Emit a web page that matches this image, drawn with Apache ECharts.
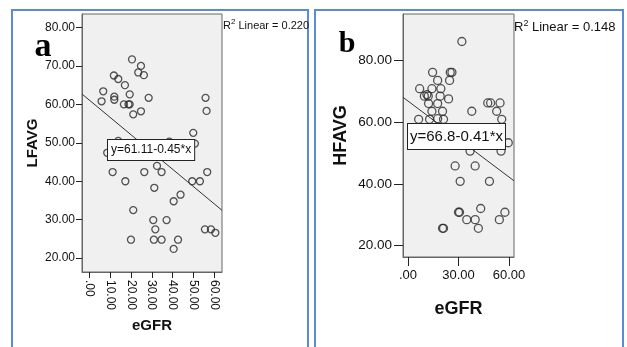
<!DOCTYPE html>
<html>
<head>
<meta charset="utf-8">
<script src="https://cdn.jsdelivr.net/npm/echarts@6/dist/echarts.min.js"></script>
<style>
html,body{margin:0;padding:0;background:#fff;}
#c{width:627px;height:347px;}
</style>
</head>
<body>
<div id="c"></div>
<script>
// ---- Panel a: LFAVG vs eGFR ----
const lfX = [5.9, 6.7, 11.8, 13.9, 12.0, 12.0, 17.1, 20.5, 24.8, 23.5, 26.2, 19.4, 16.6, 18.8, 19.4, 21.1, 24.8, 28.5,
  55.8, 56.3, 49.9, 50.7, 38.4, 13.9, 8.6, 11.2, 17.3, 26.4, 32.5, 34.7, 31.2, 21.1, 20.0, 30.7, 31.7, 31.0, 34.7,
  37.1, 40.5, 43.8, 40.5, 42.6, 49.4, 53.1, 56.6, 55.5, 58.4, 60.5];
const lfY = [60.8, 63.4, 67.5, 66.6, 62.0, 61.2, 65.0, 71.7, 70.0, 68.3, 67.6, 62.6, 60.0, 60.0, 60.0, 57.4, 58.2, 61.7,
  61.7, 58.3, 52.6, 49.8, 50.3, 50.5, 47.4, 42.4, 40.0, 42.4, 44.0, 42.4, 38.3, 32.5, 24.8, 29.9, 27.5, 24.8, 24.8,
  29.9, 34.8, 36.5, 22.4, 24.8, 40.0, 40.0, 42.4, 27.5, 27.5, 26.6];
const lfFit = [61.11, -0.45];           // intercept, slope
const lfR2 = '0.220';
const lfXTicks = [0, 10, 20, 30, 40, 50, 60];
const lfYTicks = [20, 30, 40, 50, 60, 70, 80];

// ---- Panel b: HFAVG vs eGFR ----
const hfX = [32.0, 14.6, 25.1, 26.1, 24.7, 17.6, 6.9, 14.2, 19.5, 9.7, 11.2, 12.0, 19.1, 24.1, 12.2, 17.6, 14.2, 20.5,
  6.3, 12.8, 17.6, 21.1, 37.9, 47.4, 49.1, 54.7, 52.7, 55.7, 59.6, 55.3, 36.9, 28.0, 39.9, 31.0, 48.4, 30.0, 30.6,
  34.9, 39.9, 43.2, 41.8, 20.5, 21.1, 54.3, 57.6];
const hfY = [86.1, 76.1, 76.1, 76.1, 73.5, 73.5, 70.8, 70.8, 70.8, 68.4, 68.9, 68.4, 68.4, 67.5, 66.0, 66.0, 63.5, 63.5,
  60.9, 60.9, 61.1, 60.9, 63.5, 66.2, 66.2, 66.2, 63.5, 60.9, 53.3, 50.6, 50.6, 45.8, 45.8, 40.8, 40.8, 30.8, 30.8,
  28.4, 28.4, 32.0, 25.6, 25.6, 25.6, 28.4, 30.8];
const hfFit = [66.8, -0.41];
const hfR2 = '0.148';
const hfXTicks = [0, 30, 60];
const hfYTicks = [20, 40, 60, 80];

const fmt = v => (v === 0 ? '.00' : Number(v).toFixed(2));
const zip = (xs, ys) => xs.map((x, i) => [x, ys[i]]);
const eqText = (fit, d) => 'y=' + fit[0] + '-' + Math.abs(fit[1]).toFixed(d) + '*x';

const axA = { xMin: -3.5, xMax: 63.7, yMin: 16.4, yMax: 83.5 };
const axB = { xMin: -3.0, xMax: 63.0, yMin: 16.3, yMax: 95.0 };
const fitLine = (fit, ax) => [[ax.xMin, fit[0] + fit[1] * ax.xMin], [ax.xMax, fit[0] + fit[1] * ax.xMax]];

const FONT = '"Liberation Sans", Arial, sans-serif';
const SERIF = '"Liberation Serif", "Times New Roman", serif';

function xAxisCfg(idx, ax, ticks, fs, rot, tickLen, margin, nameFs, nameGap) {
  return {
    type: 'value', gridIndex: idx, min: ax.xMin, max: ax.xMax,
    splitLine: { show: false },
    axisLine: { show: true, onZero: false, lineStyle: { color: '#666', width: 1 } },
    axisTick: { show: true, customValues: ticks, length: tickLen, lineStyle: { color: '#222' } },
    axisLabel: { show: true, customValues: ticks, formatter: fmt, rotate: rot, margin: margin,
      color: '#111', fontSize: fs, fontFamily: FONT },
    name: 'eGFR', nameLocation: 'middle', nameGap: nameGap,
    nameTextStyle: { fontSize: nameFs, fontWeight: 'bold', color: '#111', fontFamily: FONT }
  };
}
function yAxisCfg(idx, ax, ticks, fs, tickLen, margin, name, nameFs, nameGap) {
  return {
    type: 'value', gridIndex: idx, min: ax.yMin, max: ax.yMax,
    splitLine: { show: false },
    axisLine: { show: true, onZero: false, lineStyle: { color: '#666', width: 1 } },
    axisTick: { show: true, customValues: ticks, length: tickLen, lineStyle: { color: '#222' } },
    axisLabel: { show: true, customValues: ticks, formatter: fmt, margin: margin,
      color: '#111', fontSize: fs, fontFamily: FONT },
    name: name, nameLocation: 'middle', nameGap: nameGap, nameRotate: 90,
    nameTextStyle: { fontSize: nameFs, fontWeight: 'bold', color: '#111', fontFamily: FONT }
  };
}

const scatterStyle = (size) => ({
  symbol: 'circle', symbolSize: size,
  itemStyle: { color: 'rgba(0,0,0,0)', borderColor: '#2a2a2a', borderWidth: 1.3 }
});

const chart = echarts.init(document.getElementById('c'), null, { renderer: 'canvas' });
chart.setOption({
  animation: false,
  backgroundColor: '#ffffff',
  grid: [
    { left: 82, top: 14, width: 140, height: 258, show: true, backgroundColor: '#f0f0f0',
      borderColor: '#666', borderWidth: 1, containLabel: false, outerBoundsMode: 'none' },
    { left: 403, top: 14, width: 111, height: 243, show: true, backgroundColor: '#f0f0f0',
      borderColor: '#666', borderWidth: 1, containLabel: false, outerBoundsMode: 'none' }
  ],
  xAxis: [
    xAxisCfg(0, axA, lfXTicks, 12, -90, 6, 8, 15, 43),
    xAxisCfg(1, axB, hfXTicks, 13, 0, 9, 12, 18, 43)
  ],
  yAxis: [
    yAxisCfg(0, axA, lfYTicks, 12, 6, 7, 'LFAVG', 15, 42),
    yAxisCfg(1, axB, hfYTicks, 13.5, 9, 11, 'HFAVG', 18, 53)
  ],
  series: [
    Object.assign({ type: 'scatter', xAxisIndex: 0, yAxisIndex: 0, data: zip(lfX, lfY), z: 3 }, scatterStyle(7)),
    { type: 'line', xAxisIndex: 0, yAxisIndex: 0, data: fitLine(lfFit, axA), symbol: 'none', silent: true,
      lineStyle: { color: '#333', width: 1 }, z: 4 },
    Object.assign({ type: 'scatter', xAxisIndex: 1, yAxisIndex: 1, data: zip(hfX, hfY), z: 3 }, scatterStyle(8)),
    { type: 'line', xAxisIndex: 1, yAxisIndex: 1, data: fitLine(hfFit, axB), symbol: 'none', silent: true,
      lineStyle: { color: '#333', width: 1 }, z: 4 }
  ],
  graphic: [
    { type: 'rect', z: 0, shape: { x: 12, y: 10, width: 296, height: 350 },
      style: { fill: 'none', stroke: '#5b8bd0', lineWidth: 2 } },
    { type: 'rect', z: 0, shape: { x: 315, y: 10, width: 308, height: 350 },
      style: { fill: 'none', stroke: '#5b8bd0', lineWidth: 2 } },
    { type: 'text', z: 100, x: 43, y: 47,
      style: { text: 'a', font: 'bold 34px ' + SERIF, fill: '#000', align: 'center', verticalAlign: 'middle' } },
    { type: 'text', z: 100, x: 347, y: 44,
      style: { text: 'b', font: 'bold 30px ' + SERIF, fill: '#000', align: 'center', verticalAlign: 'middle' } },
    { type: 'text', z: 100, x: 223, y: 18,
      style: { text: '{r|R}{s|2}{r| Linear = ' + lfR2 + '}', fill: '#111',
        rich: { r: { fontSize: 11, fontFamily: FONT, lineHeight: 13, verticalAlign: 'bottom' },
                s: { fontSize: 8, fontFamily: FONT, lineHeight: 13, verticalAlign: 'top' } } } },
    { type: 'text', z: 100, x: 514, y: 19,
      style: { text: '{r|R}{s|2}{r| Linear = ' + hfR2 + '}', fill: '#111',
        rich: { r: { fontSize: 13, fontFamily: FONT, lineHeight: 15, verticalAlign: 'bottom' },
                s: { fontSize: 9, fontFamily: FONT, lineHeight: 15, verticalAlign: 'top' } } } },
    { type: 'text', z: 100, x: 108, y: 140,
      style: { text: eqText(lfFit, 2), font: '12px ' + FONT, fill: '#111',
        backgroundColor: '#fff', borderColor: '#222', borderWidth: 1, padding: [4, 3, 4, 3] } },
    { type: 'text', z: 100, x: 408, y: 124,
      style: { text: eqText(hfFit, 2), font: '15px ' + FONT, fill: '#111',
        backgroundColor: '#fff', borderColor: '#222', borderWidth: 1, padding: [5, 2, 5, 2] } }
  ]
});
</script>
</body>
</html>
